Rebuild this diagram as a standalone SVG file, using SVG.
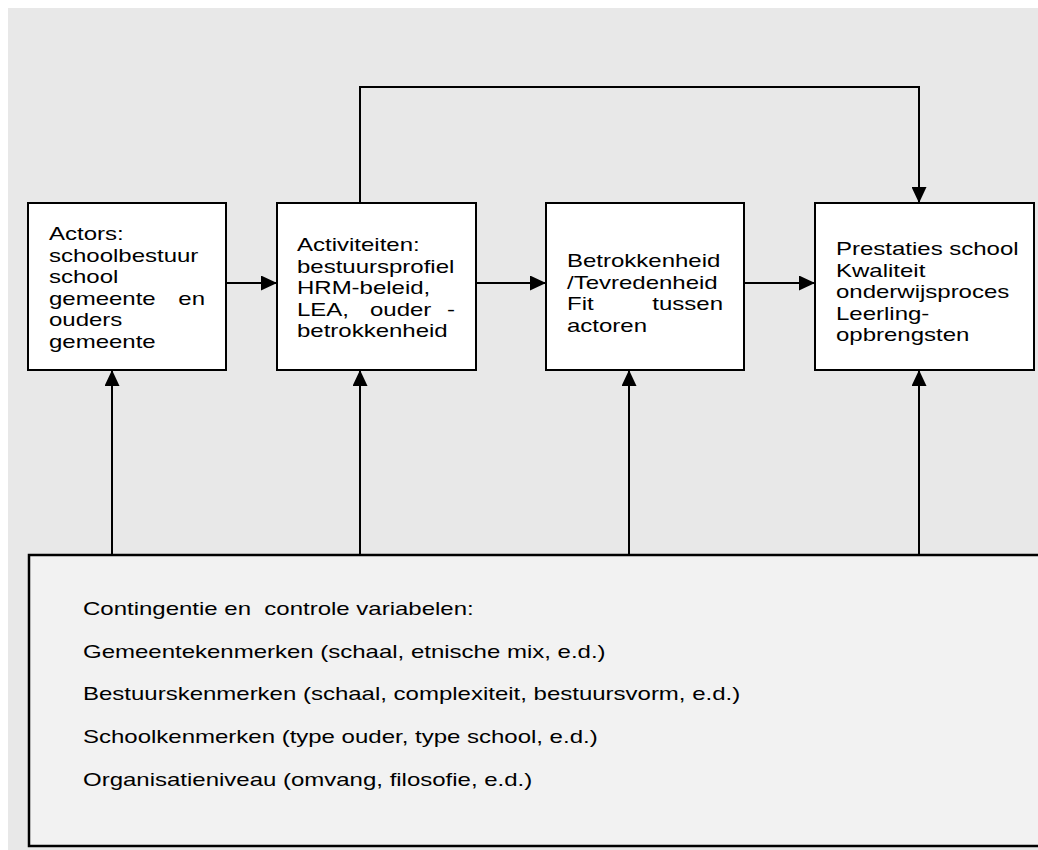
<svg xmlns="http://www.w3.org/2000/svg" width="1038" height="850" viewBox="0 0 1038 850">
<defs>
<style>
.box{fill:#ffffff;stroke:#000000;stroke-width:2}
.ctx{fill:#f2f2f2;stroke:#000000;stroke-width:2.5}
.t{font-family:"Liberation Sans",Arial,sans-serif;font-size:19.2px;fill:#000000}
.e{text-anchor:end}
.ln{fill:none;stroke:#000000;stroke-width:2}
</style>
<marker id="ah" viewBox="0 0 16 15" refX="16" refY="7.5" markerWidth="16" markerHeight="15" markerUnits="userSpaceOnUse" orient="auto">
<path d="M0,0 L16,7.5 L0,15 Z" fill="#000000"/>
</marker>
</defs>
<rect x="8" y="8" width="1030" height="842" fill="#e8e8e8"/>
<g id="connectors">
<path class="ln" d="M226,283 L277,283" marker-end="url(#ah)"/>
<path class="ln" d="M476,283 L546,283" marker-end="url(#ah)"/>
<path class="ln" d="M744,283 L815,283" marker-end="url(#ah)"/>
<path class="ln" d="M360,203 L360,87 L919,87 L919,203" marker-end="url(#ah)"/>
<path class="ln" d="M112,555 L112,370" marker-end="url(#ah)"/>
<path class="ln" d="M360,555 L360,370" marker-end="url(#ah)"/>
<path class="ln" d="M629,555 L629,370" marker-end="url(#ah)"/>
<path class="ln" d="M919,555 L919,370" marker-end="url(#ah)"/>
</g>
<g id="actors">
<rect class="box" x="28" y="203" width="198" height="167"/>
<g transform="scale(1.25,1)">
<text class="t" x="39.2" y="240">Actors:</text>
<text class="t" x="39.2" y="261.6">schoolbestuur</text>
<text class="t" x="39.2" y="283.2">school</text>
<text class="t" x="39.2" y="304.8">gemeente</text>
<text class="t e" x="164" y="304.8">en</text>
<text class="t" x="39.2" y="326.4">ouders</text>
<text class="t" x="39.2" y="348">gemeente</text>
</g>
</g>
<g id="activiteiten">
<rect class="box" x="277" y="203" width="199" height="167"/>
<g transform="scale(1.25,1)">
<text class="t" x="237.6" y="251">Activiteiten:</text>
<text class="t" x="237.6" y="272.6">bestuursprofiel</text>
<text class="t" x="237.6" y="294.2">HRM-beleid,</text>
<text class="t" x="237.6" y="315.8">LEA,</text>
<text class="t" x="296" y="315.8">ouder</text>
<text class="t e" x="364" y="315.8">-</text>
<text class="t" x="237.6" y="337.4">betrokkenheid</text>
</g>
</g>
<g id="betrokkenheid">
<rect class="box" x="546" y="203" width="198" height="167"/>
<g transform="scale(1.25,1)">
<text class="t" x="453.6" y="267">Betrokkenheid</text>
<text class="t" x="453.6" y="288.6">/Tevredenheid</text>
<text class="t" x="453.6" y="310.2">Fit</text>
<text class="t e" x="578.4" y="310.2">tussen</text>
<text class="t" x="453.6" y="331.8">actoren</text>
</g>
</g>
<g id="prestaties">
<rect class="box" x="815" y="203" width="219" height="167"/>
<g transform="scale(1.25,1)">
<text class="t" x="668.8" y="255">Prestaties school</text>
<text class="t" x="668.8" y="276.6">Kwaliteit</text>
<text class="t" x="668.8" y="298.2">onderwijsproces</text>
<text class="t" x="668.8" y="319.8">Leerling-</text>
<text class="t" x="668.8" y="341.4">opbrengsten</text>
</g>
</g>
<g id="contingentie">
<rect class="ctx" x="29" y="555" width="1020" height="291"/>
<g transform="scale(1.25,1)">
<text class="t" x="66.4" y="615" xml:space="preserve">Contingentie en  controle variabelen:</text>
<text class="t" x="66.4" y="657.7">Gemeentekenmerken (schaal, etnische mix, e.d.)</text>
<text class="t" x="66.4" y="700.4">Bestuurskenmerken (schaal, complexiteit, bestuursvorm, e.d.)</text>
<text class="t" x="66.4" y="743.1">Schoolkenmerken (type ouder, type school, e.d.)</text>
<text class="t" x="66.4" y="785.8">Organisatieniveau (omvang, filosofie, e.d.)</text>
</g>
</g>
</svg>
